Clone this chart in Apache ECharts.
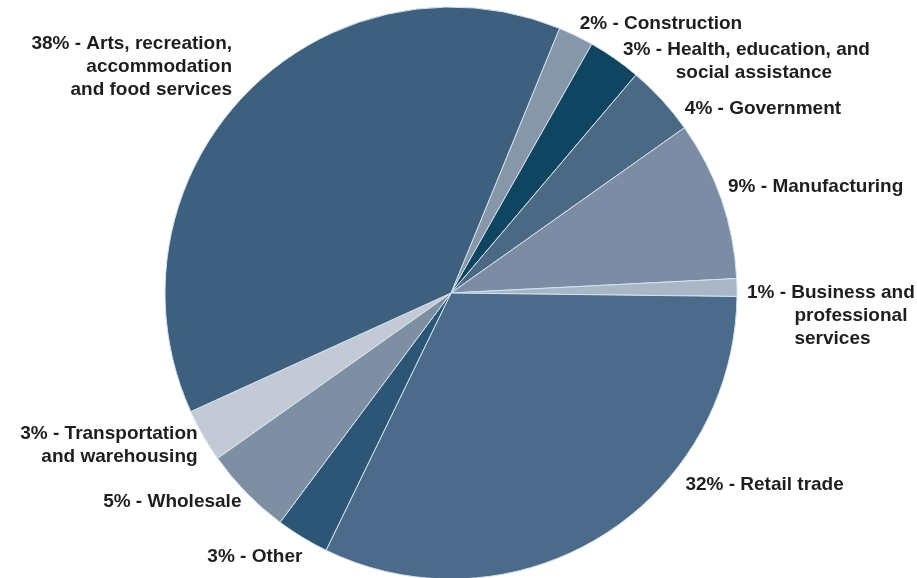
<!DOCTYPE html>
<html>
<head>
<meta charset="utf-8">
<style>
html,body{margin:0;padding:0;background:#fff;}
#chart{width:917px;height:578px;}
</style>
<script src="https://cdn.jsdelivr.net/npm/echarts@6/dist/echarts.min.js"></script>
</head>
<body>
<div id="chart"></div>
<script>
// Data (clockwise from the top-right)
const categories = [
  "Construction",
  "Health, education, and\nsocial assistance",
  "Government",
  "Manufacturing",
  "Business and\nprofessional\nservices",
  "Retail trade",
  "Other",
  "Wholesale",
  "Transportation\nand warehousing",
  "Arts, recreation,\naccommodation\nand food services"
];
const shares = [2, 3, 4, 9, 1, 32, 3, 5, 3, 38];

// Styles
const sliceColors = ["#8796a9", "#0f4561", "#4b6885", "#7b8ca4", "#a9b6c6",
                     "#4c6a89", "#2c5576", "#7e8fa4", "#c3cad6", "#3e5f7e"];
const indentSpaces = [0, 10, 0, 0, 9, 0, 0, 0, 0, 0];
const labelShift = [[-3,-8],[1,6],[15,12],[-2,-11],[1,28],[77,-55],[7,16],[3,6],[3,8],[-5,-25]];

const chart = echarts.init(document.getElementById('chart'));
chart.setOption({
  animation: false,
  backgroundColor: '#ffffff',
  series: [{
    type: 'pie',
    center: [451, 293],
    radius: [0, 286],
    startAngle: 67.7,
    clockwise: true,
    avoidLabelOverlap: false,
    itemStyle: { borderColor: '#d3e3ef', borderWidth: 1 },
    label: {
      show: true,
      position: 'outside',
      fontFamily: 'Liberation Sans, Arial, sans-serif',
      fontWeight: 'bold',
      fontSize: 19,
      lineHeight: 23,
      color: '#1e1e1e',
      formatter: function (p) {
        const lines = p.name.split('\n');
        const pad = ' '.repeat(indentSpaces[p.dataIndex]);
        return p.value + '% - ' + lines.map((l, i) => i === 0 ? l : pad + l).join('\n');
      }
    },
    labelLine: { show: false, length: 4, length2: 0 },
    labelLayout: function (p) {
      const s = labelShift[p.dataIndex];
      return { dx: s[0], dy: s[1] };
    },
    data: categories.map((c, i) => ({
      name: c,
      value: shares[i],
      itemStyle: { color: sliceColors[i] }
    }))
  }]
});
</script>
</body>
</html>
